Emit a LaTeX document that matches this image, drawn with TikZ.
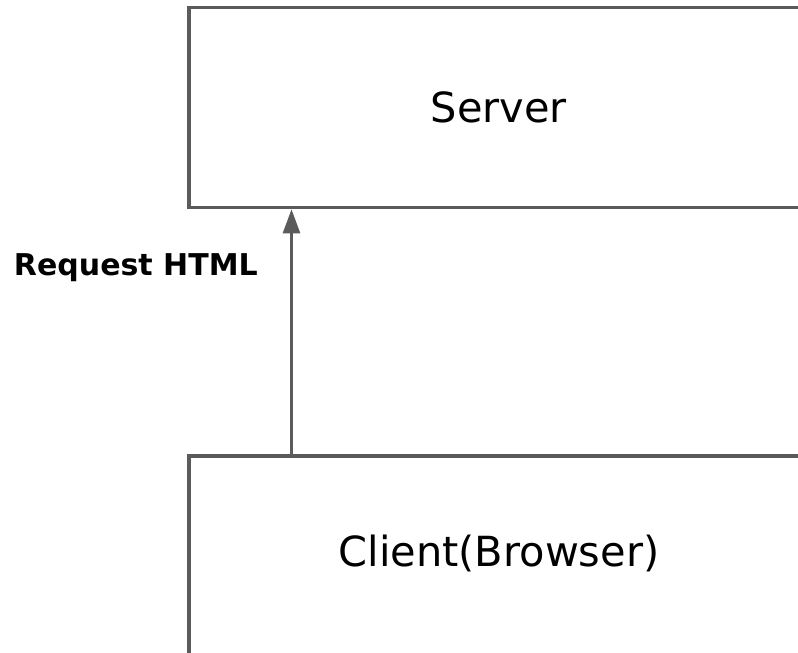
\documentclass[tikz,border=0pt]{standalone}
\usepackage{fontspec}
\setmainfont{DejaVu Sans}
\usetikzlibrary{arrows.meta}
\definecolor{edgegray}{HTML}{5B5B5B}
\tikzset{
  box/.style={draw=edgegray, line width=3.2pt, rectangle, fill=white,
    minimum width=620pt, inner sep=0pt, font=\fontsize{41.5}{48}\selectfont},
  conn/.style={draw=edgegray, line width=2.8pt,
    -{Triangle[length=24pt,width=17pt]}},
  lbl/.style={font=\fontsize{30}{36}\selectfont\bfseries, inner sep=0pt}
}
\begin{document}
\begin{tikzpicture}[x=1pt,y=-1pt]
\useasboundingbox (0,0) rectangle (798,653);
\clip (0,0) rectangle (798,653);
\node[box, minimum height=200.5pt] (server) at (499,107.5) {Server};
\node[box, minimum height=240pt] (client) at (499,576) {\raisebox{50pt}{Client(Browser)}};
\coordinate (ax) at (291.5,0);
\draw[conn] (ax |- client.north) -- (ax |- server.south);
\node[lbl, anchor=base east] (req) at (258,275) {Request HTML};
\end{tikzpicture}
\end{document}
